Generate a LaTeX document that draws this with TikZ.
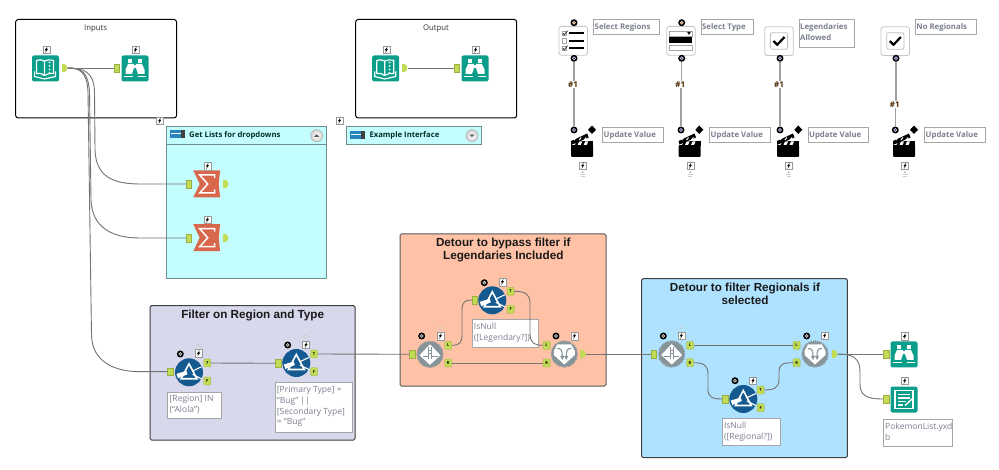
\documentclass[tikz,border=0pt]{standalone}
\usepackage{fontspec}
\setmainfont{Open Sans}
\newfontfamily\headfont{Liberation Sans}
\definecolor{teal}{HTML}{0B9E8A}
\definecolor{sumred}{HTML}{D9674B}
\definecolor{filtblue}{HTML}{14598F}
\definecolor{portgreen}{HTML}{C2DB55}
\definecolor{gearg}{HTML}{87949A}
\definecolor{wirec}{HTML}{737373}
\definecolor{notetext}{HTML}{7C8090}
\definecolor{groupedge}{HTML}{6F8F8F}
\definecolor{aqua}{HTML}{C4FDFD}
\definecolor{lavender}{HTML}{D8D8EC}
\definecolor{peach}{HTML}{FFC2A6}
\definecolor{skyfill}{HTML}{AEE2FF}
\definecolor{barblue}{HTML}{2A85BE}
\tikzset{
  plainbox/.style={draw=black,line width=1pt,rounded corners=2.5pt,fill=white},
  note/.style={draw=gray!70,line width=.7pt,fill=white,inner sep=0pt,anchor=north west},
  notetxt/.style={text=notetext,font=\fontsize{8.5}{10.8}\selectfont,anchor=north west,inner sep=0pt,align=left},
  headtxt/.style={font=\headfont\bfseries\fontsize{11.7}{13.4}\selectfont,align=center,text=black!90,inner sep=0pt},
  wire/.style={draw=wirec,line width=.9pt},
  linkw/.style={draw=gray!75,line width=1.1pt},
  inport/.style={fill=portgreen,draw=portgreen!80!black,line width=.3pt,minimum width=5.6pt,minimum height=7.6pt,inner sep=0pt},
  outport/.style={minimum width=5.6pt,minimum height=7.6pt,inner sep=0pt,
    path picture={\fill[portgreen] (path picture bounding box.south west) rectangle (path picture bounding box.north);
      \fill[portgreen] (path picture bounding box.center) ellipse[x radius=2.8,y radius=3.8];}},
  lettered/.style={rounded corners=1pt,fill=portgreen,draw=portgreen!80!black,line width=.3pt,minimum width=7pt,minimum height=8pt,inner sep=0pt,font=\fontsize{4}{4}\selectfont\bfseries},
  flash/.style={draw=gray!80,line width=.5pt,fill=white,minimum width=7pt,minimum height=7.6pt,inner sep=0pt},
  tile/.style={fill=teal,rounded corners=2pt,minimum width=27pt,minimum height=26pt,inner sep=0pt},
  disc/.style={circle,fill=filtblue,minimum size=28pt,inner sep=0pt},
  gear/.style={circle,fill=gearg,draw=gearg,line width=1.8pt,dash pattern=on 1.2pt off .9pt,minimum size=25.5pt,inner sep=0pt},
  dot/.style={circle,fill=black,minimum size=7pt,inner sep=0pt},
  panel/.style={draw=gray!45,line width=.8pt,rounded corners=2.5pt,fill=white,minimum width=28.5pt,minimum height=28.8pt,inner sep=0pt},
  tag/.style={inner sep=.5pt,font=\bfseries\fontsize{8}{9}\selectfont,text=black!70!orange},
}

% lightning marker
\newcommand{\bolt}[3]{%
  \node[flash] (#1) at (#2,#3) {};
  \fill[black,shift={(#2,#3)}] (1.1,-3.1) -- (-1.7,.5) -- (-.2,.5) -- (-1.1,3.1) -- (1.7,-.9) -- (.2,-.9) -- cycle;}
% faint signal arcs
\newcommand{\signal}[2]{%
  \draw[gray!40,line width=.55pt,shift={(#1,#2)}] (-3,1) arc[start angle=-150,end angle=-30,radius=3.4];
  \draw[gray!40,line width=.55pt,shift={(#1,#2)}] (-1.6,2.2) arc[start angle=-150,end angle=-30,radius=1.9];}
% black anchor with coloured centre
\newcommand{\anchordot}[4][blue!45!gray]{%
  \node[dot] (#2) at (#3,#4) {};
  \fill[white] (#3,#4) circle[radius=1.9];
  \fill[#1] (#3,#4) circle[radius=1.1];}
% teal tile: book
\newcommand{\booktool}[3]{%
  \node[tile] (#1) at (#2,#3) {};
  \begin{scope}[shift={(#2,#3)}]
    \draw[white,line width=1.2pt,line join=round] (-1,-7.5) .. controls (-4,-9) and (-7,-9) .. (-9,-8) -- (-9,5) .. controls (-6,4.5) and (-3,5) .. (-1,7) -- cycle;
    \draw[white,line width=1.1pt] (-1,-7.5) .. controls (2,-9) and (5,-9) .. (8,-8) -- (8,5) .. controls (5,4.5) and (2,5) .. (-1,7);
    \draw[white,line width=1.2pt] (-11,3) -- (-11,8) -- (-1,10.5) -- (10,8) -- (10,3);
    \foreach \q in {-6,-2.5,1,4.5} \fill[white] (4,\q) circle[radius=1];
  \end{scope}}
% teal tile: binoculars
\newcommand{\glasstool}[3]{%
  \node[tile] (#1) at (#2,#3) {};
  \begin{scope}[shift={(#2,#3)}]
    \fill[white] (-6.8,-9) -- (-2.6,-9) -- (-2.6,-5.5) -- (-6.8,-5.5) -- cycle;
    \fill[white] (6.8,-9) -- (2.6,-9) -- (2.6,-5.5) -- (6.8,-5.5) -- cycle;
    \fill[white] (-7,-4.5) -- (-1.2,-4.5) -- (-1.2,0) -- (-3,5.5) -- (-9.5,5.5) -- (-9.5,1) -- cycle;
    \fill[white] (7,-4.5) -- (1.2,-4.5) -- (1.2,0) -- (3,5.5) -- (9.5,5.5) -- (9.5,1) -- cycle;
    \fill[white] (-1.3,-3.5) rectangle (1.3,-.5);
    \draw[white,line width=1.1pt] (-11,8) -- (-2.5,8) (2.5,8) -- (11,8);
  \end{scope}}
% teal tile: output sheet
\newcommand{\sheettool}[3]{%
  \node[tile] (#1) at (#2,#3) {};
  \begin{scope}[shift={(#2,#3)}]
    \draw[white,line width=1.2pt] (-9,-9) rectangle (9,9);
    \draw[white,line width=1.4pt] (-6,-5) -- (6,-5) (-6,-1.5) -- (6,-1.5) (-6,2) -- (2,2) (-6,5.5) -- (-1,5.5);
    \draw[white,line width=1.5pt] (1,6) -- (8,-.5);
  \end{scope}}
% summarize tool
\newcommand{\sumtool}[3]{%
  \node[minimum width=27pt,minimum height=27pt,inner sep=0pt] (#1) at (#2,#3) {};
  \begin{scope}[shift={(#2,#3)}]
    \fill[sumred] (-13.4,-13.5) -- (13.4,-13.5) -- (12,0) -- (13.4,13.5) -- (-13.4,13.5) -- (-7,0) -- cycle;
    \draw[white,line width=1.5pt,miter limit=10] (8,-6) -- (8,-9) -- (-7,-9) -- (1,0) -- (-7,9) -- (8,9) -- (8,5.5);
  \end{scope}}
% filter tool
\newcommand{\filttool}[3]{%
  \node[disc] (#1) at (#2,#3) {};
  \begin{scope}[shift={(#2,#3)}]
    \draw[white,line width=1.6pt,line join=miter] (0,-8.5) -- (8,6.5) -- (-8,6.5) -- cycle;
    \fill[white] (-12.5,1.5) -- (-2.5,-1.5) -- (-1.5,2) -- (-11,6) -- cycle;
    \draw[white,line width=1.1pt] (3,-1) -- (12.5,-5.5) (3.5,2) -- (12.5,6.5);
  \end{scope}}
% detour start
\newcommand{\splittool}[3]{%
  \node[gear] (#1) at (#2,#3) {};
  \begin{scope}[shift={(#2,#3)}]
    \fill[white] (0,-10) -- (10.5,1) -- (0,10.5) -- (-10.5,1) -- cycle;
    \draw[gearg,line width=.8pt] (-1.8,-7) -- (-1.8,5) (1.8,-7) -- (1.8,5) (-7.5,2.5) -- (-1.8,2.5) (1.8,2.5) -- (7.5,2.5);
    \draw[gearg,line width=.7pt] (-1.8,-3.5) -- (1.8,-3.5) (-1.8,-.5) -- (1.8,-.5);
  \end{scope}}
% detour end
\newcommand{\mergetool}[3]{%
  \node[gear] (#1) at (#2,#3) {};
  \begin{scope}[shift={(#2,#3)}]
    \fill[white] (-7,-9.5) -- (7,-9.5) -- (10.5,-3) -- (10.5,1) -- (0,10.5) -- (-10.5,1) -- (-10.5,-3) -- cycle;
    \draw[gearg,line width=1.1pt] (-7,-5.5) .. controls (-3,-5.5) and (-2,-4) .. (-2,3) (7,-5.5) .. controls (3,-5.5) and (2,-4) .. (2,3);
    \fill[gearg] (-4,2) -- (0,2) -- (-2,6) -- cycle (0,2) -- (4,2) -- (2,6) -- cycle;
  \end{scope}}
% action clapper, placed by its centre column at the fixed rows
\newcommand{\clapper}[3]{%
  \begin{scope}[shift={(#2,0)}]
    \node[minimum width=22pt,minimum height=12pt,inner sep=0pt] (#1) at (0,151) {};
    \fill[black,rounded corners=1pt] (-11,145.5) rectangle (11,157);
    \fill[black] (-11,141.5) rectangle (11,145.8);
    \foreach \q in {-9,-3,3} \fill[white] (\q,141.5) -- (\q+3,141.5) -- (\q+1.5,145) -- (\q-1.5,145) -- cycle;
    \fill[black] (-11,141) -- (5,133.5) -- (6.5,137.5) -- (-10,144.5) -- cycle;
    \foreach \q in {-8,-3,2} \draw[white,line width=1pt] (\q,140) -- (\q+2,137.5);
    \fill[black] (#3-#2,125.5) -- (#3-#2+4,129.8) -- (#3-#2,134) -- (#3-#2-4,129.8) -- cycle;
  \end{scope}}

\begin{document}
\begin{tikzpicture}[x=1pt,y=-1pt]
\useasboundingbox (0,0) rectangle (999,470);
\fill[white] (0,0) rectangle (999,470);

% -------- containers ------------------------------------------------
\draw[plainbox] (15.7,19.5) rectangle (176.5,118);
\draw[plainbox] (355.7,19.5) rectangle (516.7,118);
\node[font=\fontsize{7.8}{9}\selectfont,text=black!80,inner sep=0pt] (tinp) at (95.7,28.5) {Inputs};
\node[font=\fontsize{7.8}{9}\selectfont,text=black!80,inner sep=0pt] (tout) at (436,28.5) {Output};

\fill[aqua,draw=groupedge,line width=1pt] (166.7,126.7) rectangle (326,278.7);
\draw[groupedge,line width=.5pt] (166.7,144.3) -- (326,144.3);
\fill[aqua,draw=groupedge,line width=1pt] (346.7,126.7) rectangle (481,145);
\node[font=\bfseries\fontsize{7.7}{9}\selectfont,text=black!70!teal,anchor=west,inner sep=0pt] (tget) at (189,135) {Get Lists for dropdowns};
\node[font=\bfseries\fontsize{7.7}{9}\selectfont,text=black!70!teal,anchor=west,inner sep=0pt] (tex) at (369.3,135.7) {Example Interface};
\foreach \bx/\by in {170/130,350/131} {
  \fill[barblue] (\bx,\by) rectangle ++(11,7.7);
  \draw[white,line width=.4pt] (\bx+.5,\by+3.5) -- ++(10,0);
  \fill[black!75] (\bx+11,\by) rectangle ++(4,7.7);
}
\foreach \bx/\by/\sgn in {316.7/135.7/1,472/135.7/-1} {
  \shade[inner color=white,outer color=gray!35,draw=gray!70,line width=.5pt] (\bx,\by) circle[radius=6];
  \fill[black!65] (\bx-2.6,\by+\sgn*1.1) -- (\bx+2.6,\by+\sgn*1.1) -- (\bx,\by-\sgn*1.4) -- cycle;
}

\fill[lavender,draw=black!75,line width=1pt,rounded corners=1.5pt] (150,305.7) rectangle (355,440);
\fill[peach,draw=black!65,line width=1pt,rounded corners=1.5pt] (400,234) rectangle (606,386);
\fill[skyfill,draw=black!75,line width=1pt,rounded corners=1.5pt] (641.7,278.7) rectangle (847.3,457.7);
\node[headtxt] (h1) at (252.7,315.5) {Filter on Region and Type};
\node[headtxt] (h2) at (503.3,249.8) {Detour to bypass filter if\\Legendaries Included};
\node[headtxt] (h3) at (745,294) {Detour to filter Regionals if\\selected};

% -------- tool captions ---------------------------------------------
\node[note,minimum width=53.4pt,minimum height=26.6pt] (n1) at (167.3,391.7) {};
\node[notetxt] at (169.5,395.2) {[Region] IN\\(``Alola'')};
\node[note,minimum width=77.6pt,minimum height=49.4pt] (n2) at (274.7,382.3) {};
\node[notetxt] at (276.7,386) {[Primary Type] =\\``Bug'' ||\\{}[Secondary Type]\\= ``Bug''};
\node[note,minimum width=66pt,minimum height=27.4pt] (n3) at (471.7,319.3) {};
\node[notetxt] at (473.7,323.2) {IsNull\\{}([Legendary?])};
\node[note,minimum width=58.3pt,minimum height=27pt] (n4) at (722,418.3) {};
\node[notetxt] at (723.8,422.2) {IsNull\\{}([Regional?])};
\node[note,minimum width=69pt,minimum height=26.6pt] (n5) at (883,419) {};
\node[notetxt] at (885,422.8) {PokemonList.yxd\\b};

\foreach \nm/\bx/\by/\bw/\bh/\txt in {
   a/593.3/19.3/65.4/15/{Select Regions},
   b/700.7/19.3/52/15/{Select Type},
   c/915/19.3/60.7/15/{No Regionals},
   d/602.3/126.7/60.4/15.6/{Update Value},
   e/709.3/126.7/60.7/15.6/{Update Value},
   f/807.7/126.7/60.6/15.6/{Update Value},
   g/924.3/126.7/60.7/15.6/{Update Value}}
{\node[note,minimum width=\bw pt,minimum height=\bh pt] (lab\nm) at (\bx,\by) {};
 \node[notetxt,font=\bfseries\fontsize{7.8}{10}\selectfont] at (\bx+1.2,\by+4.2) {\txt};}
\node[note,minimum width=54.7pt,minimum height=27.4pt] (labh) at (799,19.3) {};
\node[notetxt,font=\bfseries\fontsize{7.8}{10.5}\selectfont] at (800,23.4) {Legendaries\\Allowed};

% -------- tools: Inputs / Output ------------------------------------
\booktool{bookA}{45.5}{68.5}
\node[outport] (bookAo) at (64.5,68) {};
\bolt{bA}{46.3}{49.8}
\glasstool{glassA}{135}{68.5}
\node[inport] (glassAi) at (116.7,68) {};
\bolt{gA}{135.5}{49.8}

\booktool{bookB}{385.7}{68.5}
\node[outport] (bookBo) at (404.5,68) {};
\bolt{bB}{386.3}{49.8}
\glasstool{glassB}{475}{68.5}
\node[inport] (glassBi) at (456.7,68) {};
\bolt{gB}{475.5}{49.8}

\bolt{cA}{159.7}{120.7}
\bolt{cB}{339.5}{120.7}

% -------- tools: dropdown lists --------------------------------------
\sumtool{sumA}{206.7}{184}
\node[inport] (sumAi) at (188.7,184) {};
\node[outport] (sumAo) at (225.5,184) {};
\bolt{sA}{207.3}{166}
\sumtool{sumB}{206.7}{237.7}
\node[inport] (sumBi) at (188.7,238) {};
\node[outport] (sumBo) at (225.5,238) {};
\bolt{sB}{207.3}{219.8}

% -------- tools: filter group ---------------------------------------
\filttool{fa}{189}{372.3}
\node[inport] (fai) at (170.3,371.7) {};
\node[lettered] (fat) at (207.3,363) {T};
\node[lettered] (faf) at (207.3,381) {F};
\anchordot[black!60]{fad}{180.3}{354}
\bolt{fab}{198.6}{353.3}
\signal{198.3}{345}
\filttool{fb}{296.3}{363}
\node[inport] (fbi) at (278,363.3) {};
\node[lettered] (fbt) at (314,354) {T};
\node[lettered] (fbf) at (314,371.7) {F};
\anchordot[black!60]{fbd}{287.7}{345}
\bolt{fbb}{306}{344.8}
\signal{305.7}{336}

% -------- tools: first detour ----------------------------------------
\splittool{da}{430}{354.3}
\node[inport] (dai) at (412,354.3) {};
\node[lettered] (dal) at (448.3,345.3) {L};
\node[lettered] (dar) at (448.3,363) {R};
\anchordot[black!60]{dad}{421.7}{336}
\bolt{dab}{440.3}{336}
\signal{440}{327.7}
\filttool{fc}{492.3}{300.3}
\node[inport] (fci) at (474.7,300) {};
\node[lettered] (fct) at (510.6,291.3) {T};
\node[lettered] (fcf) at (510.6,309.3) {F};
\anchordot[black!60]{fcd}{484.3}{282.7}
\bolt{fcb}{502.3}{282}
\mergetool{ma}{564.3}{354}
\node[lettered] (mal) at (546.6,345.3) {L};
\node[lettered] (mar) at (546.6,363) {R};
\node[outport] (mao) at (583,354) {};
\anchordot[black!60]{mad}{556}{336}
\bolt{mab}{574.3}{336}

% -------- tools: second detour ---------------------------------------
\splittool{db}{671.7}{354}
\node[inport] (dbi) at (653.8,354) {};
\node[lettered] (dbl) at (690,345.3) {L};
\node[lettered] (dbr) at (690,362.7) {R};
\anchordot[black!60]{dbd}{663.3}{336}
\bolt{dbb}{681.3}{335.7}
\signal{681}{326.7}
\mergetool{mb}{815}{354}
\node[lettered] (mbl) at (796.6,345.3) {L};
\node[lettered] (mbr) at (796.6,362.7) {R};
\node[outport] (mbo) at (834.5,354) {};
\anchordot[black!60]{mbd}{806.7}{336}
\bolt{mbb}{824.6}{335.7}
\filttool{fd}{743.3}{399}
\node[inport] (fdi) at (725.3,399) {};
\node[lettered] (fdt) at (760.6,390) {T};
\node[lettered] (fdf) at (760.6,407.7) {F};
\anchordot[black!60]{fdd}{735}{380.7}
\bolt{fdb}{753}{380.7}

% -------- tools: results ---------------------------------------------
\glasstool{glassC}{904}{354.5}
\node[inport] (glassCi) at (886.2,354) {};
\bolt{gC}{904.7}{336.3}
\sheettool{sheet}{904}{399.5}
\node[inport] (sheeti) at (886.2,399) {};
\bolt{sh}{904.7}{380.7}

% -------- interface panels -------------------------------------------
\node[panel] (pa) at (573.3,40.8) {};
\begin{scope}[shift={(573.3,40.8)}]
  \foreach \q/\chk in {-7.5/1,0/0,7.5/1} {
    \draw[gray!70,line width=.5pt,fill=white] (-11,\q-2.2) rectangle (-6.6,\q+2.2);
    \draw[black,line width=1.6pt] (-4,\q) -- (11,\q);
    \ifnum\chk=1 \draw[black!80,line width=.8pt] (-10.5,\q) -- (-9,\q+1.6) -- (-5.8,\q-2.6); \fi
  }
\end{scope}
\node[panel] (pb) at (681,40.8) {};
\begin{scope}[shift={(681,40.8)}]
  \draw[gray!70,line width=.4pt,fill=white] (-12,-10) rectangle (11,-5);
  \fill[black] (6,-9) -- (10,-9) -- (8,-6) -- cycle;
  \fill[black] (-12,-4) rectangle (11,2);
  \draw[gray!70,line width=.4pt,fill=white] (-12,4) rectangle (11,9);
\end{scope}
\node[panel] (pc) at (779,41.2) {};
\node[panel] (pd) at (895.3,41.2) {};
\foreach \cx in {779,895.3} {
  \draw[gray!50,line width=.8pt,rounded corners=2pt,fill=white] (\cx-8.6,32.7) rectangle (\cx+8.6,49.3);
  \draw[black,line width=2.2pt,line join=round,shift={(\cx,41)}] (-5.5,0) -- (-1.8,3.8) -- (5.5,-4);
}
\anchordot[orange!60!gray]{tpa}{574}{22.7}
\anchordot[orange!60!gray]{tpb}{681.7}{22.7}
\anchordot{ua}{574}{58.3}
\anchordot{ub}{681.7}{58.3}
\anchordot{uc}{780}{58.3}
\anchordot{ud}{896}{58.3}
\anchordot{va}{574}{130}
\anchordot{vb}{681}{130}
\anchordot{vc}{780}{130}
\anchordot{vd}{895.3}{130}
\clapper{ca}{582.2}{592}
\clapper{cb}{689.5}{699.3}
\clapper{cc}{788}{798.3}
\clapper{cd}{904}{914}
\bolt{ba}{582.7}{165.7}
\bolt{bb}{690.3}{165.7}
\bolt{bc}{788.7}{165.7}
\bolt{bd}{905}{165.7}
\foreach \px in {582.7,690.3,788.7,905} {
  \fill[gray!50] (\px-1.4,173) -- (\px+1.4,173) -- (\px,171) -- cycle;
  \draw[gray!40,line width=.5pt] (\px-2.5,174.5) -- (\px+2.5,174.5) (\px-2,176) -- (\px+2,176);
}

% -------- action links -----------------------------------------------
\node[tag] (ta) at (573,84.5) {\#1};
\node[tag] (tb) at (680.3,84.5) {\#1};
\node[tag] (tc) at (779,84.5) {\#1};
\node[tag] (td) at (894.7,104.5) {\#1};
\draw[linkw] (ua) -- (ua |- ta.north) (ua |- ta.south) -- (va);
\draw[linkw] (ub) -- (ub |- tb.north) (vb |- tb.south) -- (vb);
\draw[linkw] (uc) -- (uc |- tc.north) (uc |- tc.south) -- (vc);
\draw[linkw] (ud) -- (ud |- td.north) (vd |- td.south) -- (vd);

% -------- connectors -------------------------------------------------
\draw[wire] (bookAo.east) -- (glassAi.west);
\draw[wire] (bookBo.east) -- (glassBi.west);
\draw[wire] (bookAo.east) .. controls (84,68) and (94,72) .. (94.5,92) -- (95,150) .. controls (96,176) and (112,184) .. (140,184) -- (sumAi.west);
\draw[wire] (bookAo.east) .. controls (82,68) and (88,72) .. (89.5,92) -- (91,200) .. controls (92,226) and (110,238) .. (140,238) -- (sumBi.west);
\draw[wire] (bookAo.east) .. controls (80,68) and (87,72) .. (88,92) -- (91.5,335) .. controls (92,362) and (115,371.7) .. (140,371.7) -- (fai.west);
\draw[wire] (fat.east) -- (fbi.west);
\draw[wire] (fbt.east) -- (dai.west);
\draw[wire] (dal.east) .. controls (459,345.3) and (462,343) .. (462,335) -- (462,310) .. controls (462,302) and (465,300) .. (fci.west);
\draw[wire] (fct.east) .. controls (525,291.3) and (530,294) .. (530,303) -- (530,333) .. controls (530,343) and (534,345.3) .. (mal.west);
\draw[wire] (dar.east) -- (mar.west);
\draw[wire] (mao.east) -- (dbi.west);
\draw[wire] (dbl.east) -- (mbl.west);
\draw[wire] (dbr.east) .. controls (703,362.7) and (708,365) .. (708,374) -- (708,389) .. controls (708,397) and (712,399) .. (fdi.west);
\draw[wire] (fdt.east) .. controls (774,390) and (779,388) .. (779,379) -- (779,372) .. controls (779,364) and (783,362.7) .. (mbr.west);
\draw[wire] (mbo.east) -- (glassCi.west);
\draw[wire] (mbo.east) .. controls (853,354) and (860,358) .. (860,372) -- (860,384) .. controls (860,395) and (866,399) .. (sheeti.west);
\end{tikzpicture}
\end{document}
